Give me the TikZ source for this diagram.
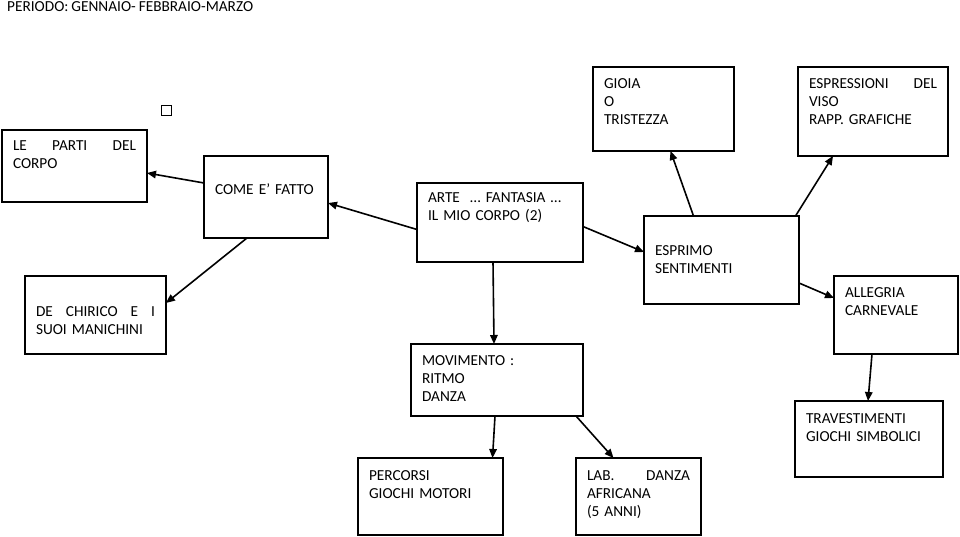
\documentclass[tikz,border=0pt]{standalone}
\usepackage{fontspec}
\setmainfont{Carlito}[WordSpace=0.85]
\usetikzlibrary{arrows.meta}

\begin{document}
\begin{tikzpicture}[
x=1pt, y=-1pt,
every node/.style={font=\fontsize{15.3}{18}\selectfont},
card/.style={draw, line width=1.3pt, anchor=north west, align=left, inner xsep=11pt, inner ysep=0pt, outer sep=0pt, text height=21pt},
arr/.style={-{Triangle[length=9pt,width=7.5pt]}, line width=1.6pt}
]
\path[fill=white] (0,0) rectangle (960,537);
\useasboundingbox (0,0) rectangle (960,537);

% Title and stray mark
\node[anchor=base west, inner sep=0pt] (periodo) at (7,12) {PERIODO: GENNAIO- FEBBRAIO-MARZO};
\node[draw, line width=0.9pt, minimum size=10pt, inner sep=0pt] (stray) at (166,110) {};

% Left branch
\node[card, text width=123pt, text depth=51pt] (parti) at (2,130) {LE \hfill PARTI \hfill DEL\\CORPO};
\node[card, text width=102pt, text height=39pt, text depth=43pt] (come) at (204,156) {COME E’ FATTO};
\node[card, text width=119pt, text height=40pt, text depth=38pt] (chirico) at (25,276) {DE \hfill CHIRICO \hfill E \hfill I\\SUOI MANICHINI};

% Centre
\node[card, text width=144pt, text height=20pt, text depth=59pt] (arte) at (417,183) {ARTE\ \ … FANTASIA …\\IL MIO CORPO (2)};
\node[card, text width=150pt, text depth=51pt] (movimento) at (411,344) {MOVIMENTO :\\RITMO\\DANZA};
\node[card, text width=123pt, text height=22pt, text depth=55pt] (percorsi) at (358,458) {PERCORSI\\GIOCHI MOTORI};
\node[card, text width=103pt, text height=22pt, text depth=55pt] (lab) at (576,458) {LAB. \hfill DANZA\\AFRICANA\\(5 ANNI)};

% Right branch
\node[card, text width=133pt, text height=39pt, text depth=49pt] (esprimo) at (644,216) {ESPRIMO\\SENTIMENTI};
\node[card, text width=119pt, text height=22pt, text depth=62pt] (gioia) at (593,67) {GIOIA\\O\\TRISTEZZA};
\node[card, text width=128pt, text height=22pt, text depth=67pt] (espressioni) at (798,67) {ESPRESSIONI \hfill DEL\\VISO\\RAPP. GRAFICHE};
\node[card, text width=102pt, text depth=57pt] (allegria) at (834,276) {ALLEGRIA\\CARNEVALE};
\node[card, text width=126pt, text height=22pt, text depth=54pt] (travestimenti) at (795,401) {TRAVESTIMENTI\\GIOCHI SIMBOLICI};

% Connectors
\draw[arr] ([yshift=-7pt]arte.west) -- ([yshift=-6pt]come.east);
\draw[arr] ([yshift=14pt]come.west) -- ([yshift=-7pt]parti.east);
\draw[arr] ([xshift=-19pt]come.south) -- ([yshift=12pt]chirico.east);
\draw[arr] ([xshift=-7pt]arte.south) -- ([xshift=-3pt]movimento.north);
\draw[arr] ([xshift=-2pt]movimento.south) -- ([xshift=62pt]percorsi.north);
\draw[arr] ([xshift=79pt]movimento.south) -- ([xshift=-25pt]lab.north);
\draw[arr] ([yshift=-4pt]arte.east) -- ([yshift=8pt]esprimo.west);
\draw[arr] ([xshift=-28pt]esprimo.north) -- ([xshift=7pt]gioia.south);
\draw[arr] ([xshift=74pt]esprimo.north) -- ([xshift=-40pt]espressioni.south);
\draw[arr] ([yshift=-23pt]esprimo.east) -- ([yshift=17pt]allegria.west);
\draw[arr] ([xshift=-24pt]allegria.south) -- ([xshift=-1pt]travestimenti.north);
\end{tikzpicture}
\end{document}
